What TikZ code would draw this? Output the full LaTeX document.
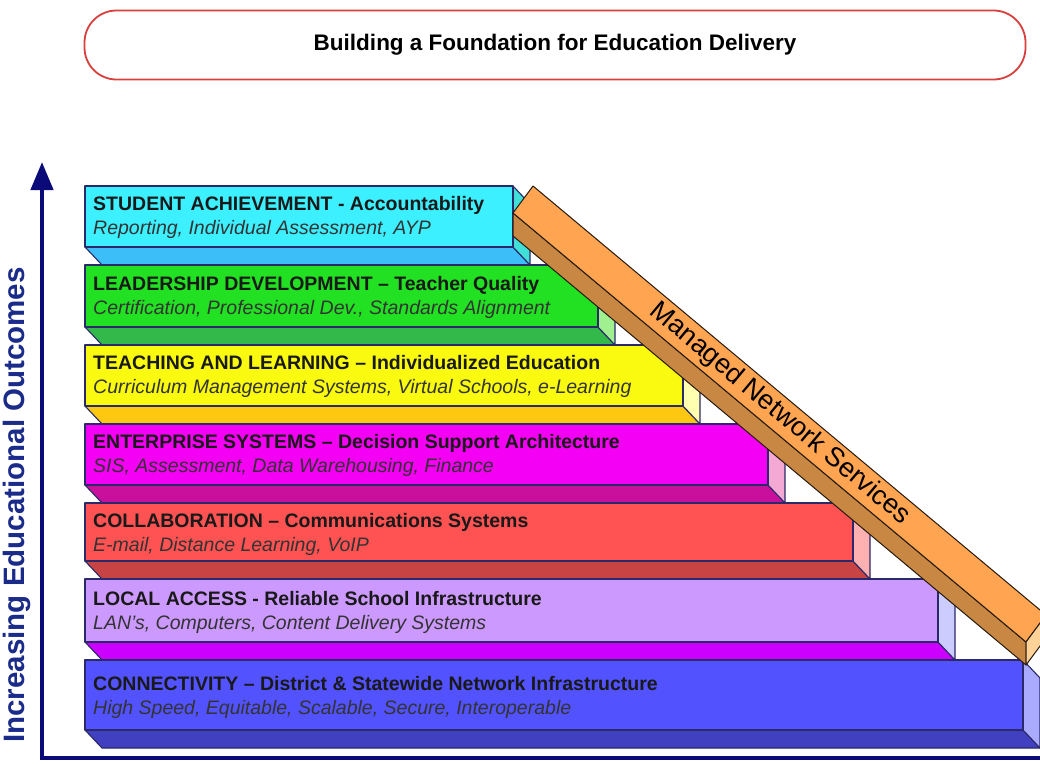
\documentclass[tikz,border=0pt]{standalone}
\usepackage{fontspec}
\setmainfont{Liberation Sans}
\usetikzlibrary{arrows.meta}
\definecolor{navy}{HTML}{0A0A78}
\definecolor{labelblue}{HTML}{1A2B8A}
\definecolor{titlered}{HTML}{D8403E}
\definecolor{edge}{HTML}{2A2A6A}
\definecolor{cyanF}{HTML}{3CF0FF}\definecolor{cyanB}{HTML}{3CBEF8}\definecolor{cyanS}{HTML}{40E0D8}
\definecolor{greenF}{HTML}{22E022}\definecolor{greenB}{HTML}{33B84A}\definecolor{greenS}{HTML}{A0F090}
\definecolor{yelF}{HTML}{FAFA10}\definecolor{yelB}{HTML}{FFC810}\definecolor{yelS}{HTML}{FFFFB0}
\definecolor{magF}{HTML}{F400F4}\definecolor{magB}{HTML}{C8109C}\definecolor{magS}{HTML}{F4A8D4}
\definecolor{redF}{HTML}{FF5252}\definecolor{redB}{HTML}{C84444}\definecolor{redS}{HTML}{FFB0B0}
\definecolor{lavF}{HTML}{CC99FF}\definecolor{lavB}{HTML}{CC00FF}\definecolor{lavS}{HTML}{CCCCFF}
\definecolor{bluF}{HTML}{5252FF}\definecolor{bluB}{HTML}{4040C0}\definecolor{bluS}{HTML}{AAAAFF}
\definecolor{beamT}{HTML}{FFA552}\definecolor{beamD}{HTML}{C88844}\definecolor{beamE}{HTML}{FFD29A}
\newcommand{\edubar}[7]{%
  % #1 top, #2 front bottom, #3 right, #4 front, #5 bottom, #6 side, #7 name
  \filldraw[barline, fill=#5] (85,#2) -- (#3,#2) -- (#3+17,#2+18) -- (102,#2+18) -- cycle;
  \filldraw[barline, fill=#6] (#3,#1) -- (#3+17,#1+18) -- (#3+17,#2+18) -- (#3,#2) -- cycle;
  \filldraw[barline, fill=#4] (85,#1) rectangle (#3,#2);
  \coordinate (#7) at (85,#1);
}
\begin{document}
\begin{tikzpicture}[x=1pt,y=-1pt,
  barline/.style={draw=edge, line width=1.1pt, line join=round},
  beamline/.style={draw=black!80!brown, line width=1pt, line join=round},
  head/.style={anchor=base west, inner sep=0pt, text=black!90,
    font=\fontsize{19.5}{22}\selectfont\bfseries},
  sub/.style={anchor=base west, inner sep=0pt, text=black!80,
    font=\fontsize{19.5}{22}\selectfont\itshape},
  axisline/.style={draw=navy, line width=4.5pt}]
\useasboundingbox (0,0) rectangle (1040,763);
\fill[white] (0,0) rectangle (1040,763);

% title
\node[draw=titlered, line width=1.8pt, rounded corners=32pt,
  minimum width=941pt, minimum height=69pt, inner sep=0pt,
  font=\fontsize{22.5}{25}\selectfont\bfseries] (title) at (555,45)
  {Building a Foundation for Education Delivery};

% axes
\coordinate (origin) at (42,758);
\coordinate (ytip) at (42,162);
\coordinate (xend) at (1040,758);
\draw[axisline] (40,758) -- (xend);
\draw[axisline, -{Triangle[width=22pt,length=28pt]}] (origin) -- (ytip);
\node[rotate=90, text=labelblue, inner sep=0pt,
  font=\fontsize{29.5}{31}\selectfont\bfseries] (ylab) at (17,505)
  {Increasing Educational Outcomes};

% bars
\edubar{186}{247}{513}{cyanF}{cyanB}{cyanS}{b1}
\edubar{265}{327}{598}{greenF}{greenB}{greenS}{b2}
\edubar{345}{406}{683}{yelF}{yelB}{yelS}{b3}
\edubar{424}{485}{768}{magF}{magB}{magS}{b4}
\edubar{503}{561}{853}{redF}{redB}{redS}{b5}
\edubar{579}{642}{938}{lavF}{lavB}{lavS}{b6}
\edubar{660}{730}{1023}{bluF}{bluB}{bluS}{b7}

\node[head] (h1) at (93,210) {STUDENT ACHIEVEMENT - Accountability};
\node[sub]  (s1) at (93,234) {Reporting, Individual Assessment, AYP};
\node[head] (h2) at (93,290) {LEADERSHIP DEVELOPMENT – Teacher Quality};
\node[sub]  (s2) at (93,314) {Certification, Professional Dev., Standards Alignment};
\node[head] (h3) at (93,369) {TEACHING AND LEARNING – Individualized Education};
\node[sub]  (s3) at (93,393) {Curriculum Management Systems, Virtual Schools, e-Learning};
\node[head] (h4) at (93,448) {ENTERPRISE SYSTEMS – Decision Support Architecture};
\node[sub]  (s4) at (93,472) {SIS, Assessment, Data Warehousing, Finance};
\node[head] (h5) at (93,527) {COLLABORATION – Communications Systems};
\node[sub]  (s5) at (93,551) {E-mail, Distance Learning, VoIP};
\node[head] (h6) at (93,605) {LOCAL ACCESS - Reliable School Infrastructure};
\node[sub]  (s6) at (93,629) {LAN’s, Computers, Content Delivery Systems};
\node[head] (h7) at (93,690) {CONNECTIVITY – District \& Statewide Network Infrastructure};
\node[sub]  (s7) at (93,714) {High Speed, Equitable, Scalable, Secure, Interoperable};

% beam
\begin{scope}
\clip (0,0) rectangle (1040,763);
\filldraw[beamline, fill=beamD] (513,213) -- (1026,642) -- (1026,665) -- (513,236) -- cycle;
\filldraw[beamline, fill=beamT] (533,186) -- (1046,615) -- (1026,642) -- (513,213) -- cycle;
\filldraw[beamline, fill=beamE] (1026,642) -- (1046,615) -- (1046,638) -- (1026,665) -- cycle;
\end{scope}
\node[rotate=-39.9, inner sep=0pt, font=\fontsize{27}{30}\selectfont] (beamtext)
  at (780,414) {Managed Network Services};
\end{tikzpicture}
\end{document}
